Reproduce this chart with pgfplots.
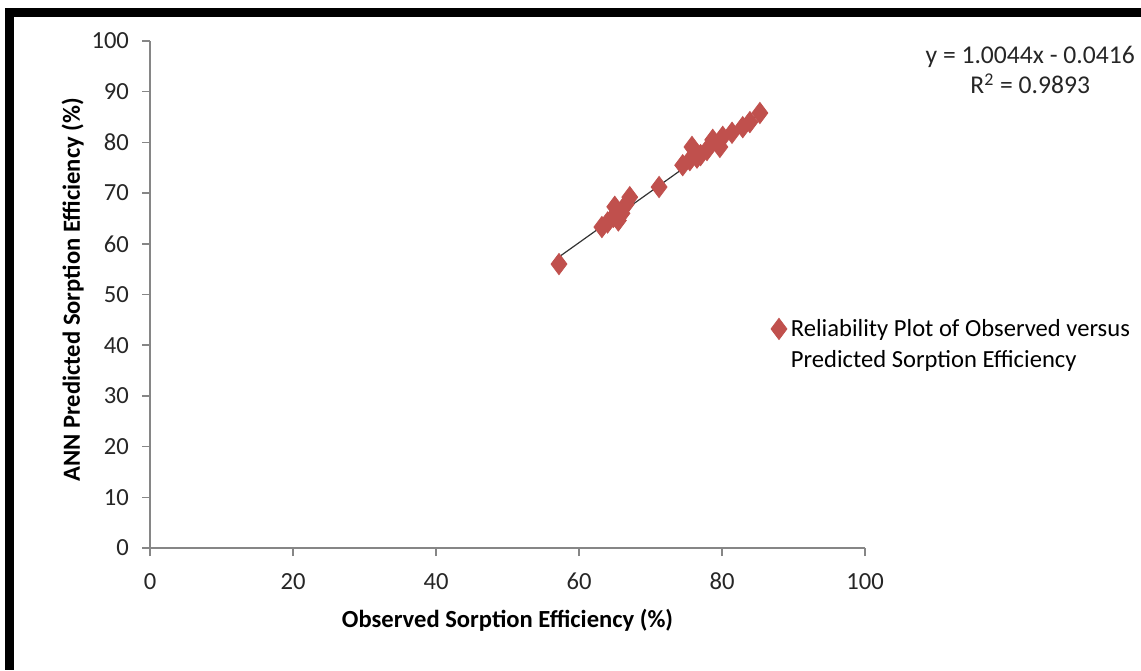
\documentclass[border=0pt]{standalone}
\usepackage{pgfplots}
\pgfplotsset{compat=1.18}
\usepackage{fontspec}
\setmainfont{Carlito}
\definecolor{exred}{RGB}{192,80,77}
\definecolor{axgray}{RGB}{134,134,134}
\definecolor{txt}{RGB}{38,38,38}

\pgfplotstableread{
obs  pred
57.2 56.0
63.2 63.3
64.0 64.2
64.8 65.3
65.0 67.3
65.5 64.6
66.0 66.0
66.6 67.8
67.1 69.2
71.2 71.2
74.5 75.5
75.5 76.5
75.8 79.1
76.5 77.0
77.0 77.5
77.9 78.5
78.7 80.5
79.7 79.1
80.1 81.1
81.4 81.9
82.9 83.0
83.9 84.0
85.3 85.8
}\sorption

\begin{document}
\begin{tikzpicture}
\useasboundingbox (0,0) rectangle (570.5pt,335pt);
% frame of the original figure (top and left edges only)
\fill[black] (2.5pt,326.5pt) rectangle (570.5pt,331pt);
\fill[black] (2.5pt,0pt) rectangle (7pt,331pt);
\begin{axis}[
    at={(75pt,61pt)}, anchor=south west,
    scale only axis,
    width=357.5pt, height=253.5pt,
    xmin=0, xmax=100, ymin=0, ymax=100,
    xtick={0,20,...,100}, ytick={0,10,...,100},
    axis lines=left,
    axis line style={axgray, line width=0.8pt, -},
    tick style={axgray, line width=0.8pt},
    tick align=outside,
    major tick length=4pt,
    font=\fontsize{12.3}{14}\selectfont,
    tick label style={txt},
    /pgf/number format/assume math mode=true,
    xticklabel style={yshift=-5pt},
    yticklabel style={xshift=-3pt},
    xlabel={\bfseries Observed Sorption Efficiency (\%)},
    ylabel={\bfseries ANN Predicted Sorption Efficiency (\%)},
    xlabel style={at={(rel axis cs:0.5,-0.142)}, anchor=center},
    ylabel style={at={(rel axis cs:-0.108,0.509)}, anchor=center, rotate=0},
    legend style={at={(rel axis cs:0.868,0.465)}, anchor=north west, draw=none, fill=none,
        font=\fontsize{12.3}{14.5}\selectfont, cells={anchor=base west},
        inner sep=0pt},
    legend image post style={yshift=4pt},
    clip=false,
]
\addplot[only marks, mark=diamond*, mark size=5.3pt, color=exred, fill=exred]
    table[x=obs, y=pred] {\sorption};
\addlegendentry{\begin{tabular}[t]{@{}l@{}}Reliability Plot of Observed versus\\[1pt]Predicted Sorption Efficiency\end{tabular}}
\addplot[black!80, line width=0.6pt, forget plot] coordinates {(57.2,57.41) (85.6,85.94)};
\node[font=\fontsize{12.8}{15}\selectfont, txt, align=center] at (rel axis cs:1.231,0.942)
    {y = 1.0044x - 0.0416\\[0pt] R\textsuperscript{2} = 0.9893};
\end{axis}
\end{tikzpicture}
\end{document}
